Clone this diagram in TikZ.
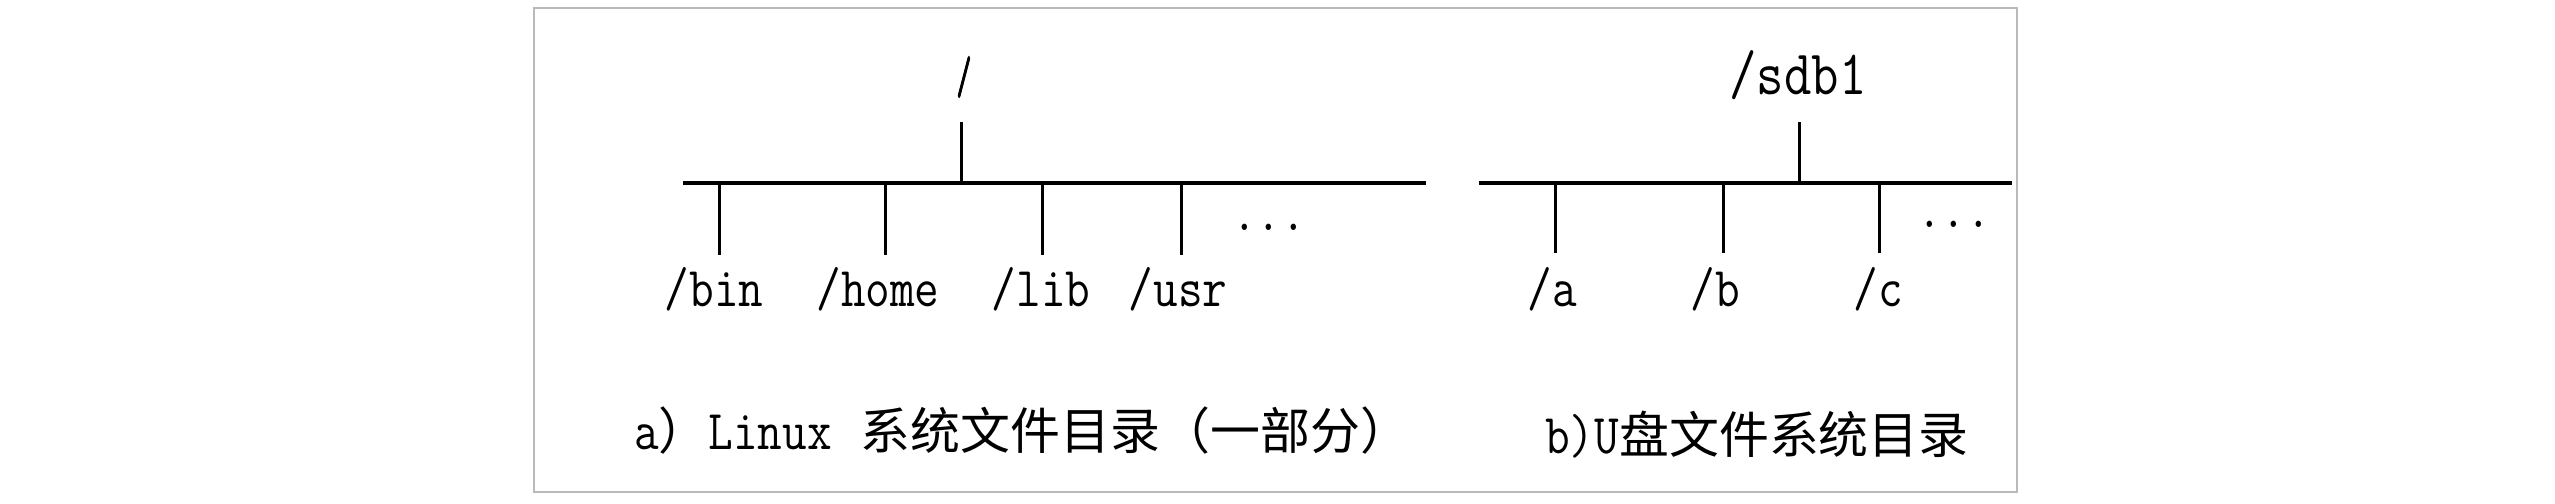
\documentclass[tikz,border=0pt]{standalone}
\usepackage{fontspec}
\newfontfamily\cjk{Noto Sans CJK SC}
\newfontfamily\rootfont[FakeBold=2.5]{Latin Modern Mono}
\newcommand\narrowtxt[2][0.85]{\scalebox{#1}[1]{#2}}
\begin{document}
\begin{tikzpicture}[x=0.01cm,y=-0.01cm,
  lbl/.style={font=\ttfamily\fontsize{16}{18}\selectfont, inner sep=0, anchor=base},
  bigname/.style={font=\ttfamily\fontsize{18}{20}\selectfont, inner sep=0, anchor=base},
  captext/.style={font=\fontsize{14.2}{16}\selectfont, inner sep=0, anchor=center},
  busline/.style={line width=1.15pt},
  tickline/.style={line width=0.85pt},
  boxframe/.style={draw=black!27, line width=0.65pt}]
\useasboundingbox (0,0) rectangle (2555,504);
\draw[boxframe] (534,8) rectangle (2017,492);

% ---- a) Linux tree ----
\node[font=\rootfont\fontsize{15}{16}\selectfont, inner sep=0] (root) at (964,77) {\scalebox{0.55}[1]{/}};
\coordinate (LW) at (683,183);
\coordinate (LE) at (1426,183);
\coordinate (Ls) at (961,122);
\draw[busline] (LW) -- (LE);
\draw[tickline] (Ls) -- (Ls |- LW);
\foreach \x/\n in {719/1,885/2,1042/3,1181/4}{
  \coordinate (Lt\n) at (\x,255);
  \draw[tickline] (Lt\n |- LW) -- (Lt\n);
}
\node[lbl] (bin)  at (714,307) {\narrowtxt{/bin}};
\node[lbl] (home) at (878,307) {\narrowtxt{/home}};
\node[lbl] (lib)  at (1041,307) {\narrowtxt{/lib}};
\node[lbl] (usr)  at (1178,307) {\narrowtxt{/usr}};
\node[lbl] (ldots) at (1269,231) {\narrowtxt{...}};
\node[captext] (capA) at (1022,431) {{\ttfamily\fontsize{16}{18}\selectfont\narrowtxt{a}}{\cjk ）}{\ttfamily\fontsize{16}{18}\selectfont\narrowtxt{Linux}\ }{\cjk 系统文件目录（一部分）}};

% ---- b) U disk tree ----
\node[bigname] (sdb) at (1798,95) {\narrowtxt[0.84]{/sdb1}};
\coordinate (RW) at (1479,183);
\coordinate (RE) at (2012,183);
\coordinate (Rs) at (1799,122);
\draw[busline] (RW) -- (RE);
\draw[tickline] (Rs) -- (Rs |- RW);
\foreach \x/\n in {1555/1,1723/2,1879/3}{
  \coordinate (Rt\n) at (\x,253);
  \draw[tickline] (Rt\n |- RW) -- (Rt\n);
}
\node[lbl] (a) at (1552,307) {\narrowtxt{/a}};
\node[lbl] (b) at (1715,307) {\narrowtxt{/b}};
\node[lbl] (c) at (1878,307) {\narrowtxt{/c}};
\node[lbl] (rdots) at (1954,228) {\narrowtxt{...}};
\node[captext] (capB) at (1757,435) {{\ttfamily\fontsize{16}{18}\selectfont\narrowtxt{b)U}}{\cjk 盘文件系统目录}};
\end{tikzpicture}
\end{document}
